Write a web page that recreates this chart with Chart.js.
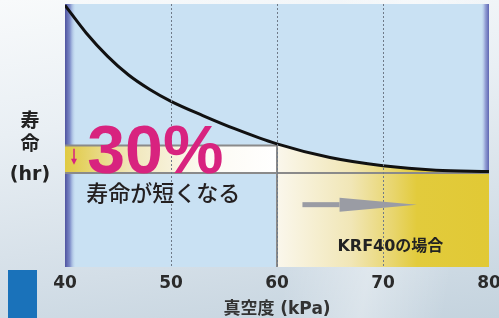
<!DOCTYPE html>
<html>
<head>
<meta charset="utf-8">
<script src="https://cdn.jsdelivr.net/npm/chart.js@4"></script>
<style>
  html, body { margin: 0; padding: 0; }
  body {
    width: 499px; height: 318px; overflow: hidden; position: relative;
    background:
      linear-gradient(100deg, rgba(255,255,255,0) 60%, rgba(255,255,255,0.35) 75%, rgba(255,255,255,0) 90%),
      linear-gradient(172deg, #f8fafb 0%, #e9eff4 35%, #d3dee7 75%, #c4d3de 100%);
  }
  #badge { position: absolute; left: 8px; top: 270px; width: 29px; height: 48px; background: #1a72ba; }
  canvas { position: absolute; left: 0; top: 0; }
</style>
</head>
<body>
<div id="badge"></div>
<canvas id="lifeChart" width="499" height="318"></canvas>
<script>
// 真空度 (kPa) と寿命 (hr, 相対値)
const pressure = [40, 42, 44, 46, 48, 50, 53, 56, 60, 65, 70, 75, 80];
const lifeHours = [99.5, 89.0, 80.2, 73.0, 67.5, 63.0, 57.6, 52.6, 46.8, 41.6, 38.5, 36.8, 36.3];
const xTicks = [40, 50, 60, 70, 80];
const gridAt = [50, 60, 70];

// 寿命の帯 (60kPa → 80kPa で短くなる分)
const bandStart = 40, bandSplit = 60, bandEnd = 80;
const bandTop = 46.2, bandBottom = 35.7;

const CJK = "'DejaVu Sans', 'Noto Sans CJK JP', sans-serif";
const gray = '#8a8a8a';

const curve = pressure.map((p, i) => ({ x: p, y: lifeHours[i] }));
const curveRight = curve.filter(pt => pt.x >= bandSplit);

// 背景 (プロット領域の水色と両端の紫)
const plotBackground = {
  id: 'plotBackground',
  beforeDraw(chart) {
    const { ctx, chartArea: a } = chart;
    ctx.save();
    ctx.fillStyle = '#c9e1f3';
    ctx.fillRect(a.left, a.top, a.width, a.height);
    let g = ctx.createLinearGradient(a.left, 0, a.left + 11, 0);
    g.addColorStop(0, '#4f53a0');
    g.addColorStop(0.45, '#7d8cc8');
    g.addColorStop(1, 'rgba(201,225,243,0)');
    ctx.fillStyle = g;
    ctx.fillRect(a.left, a.top, 11, a.height);
    g = ctx.createLinearGradient(a.right - 8, 0, a.right, 0);
    g.addColorStop(0, 'rgba(201,225,243,0)');
    g.addColorStop(0.5, '#99a6d8');
    g.addColorStop(1, '#5e66b2');
    ctx.fillStyle = g;
    ctx.fillRect(a.right - 8, a.top, 8, a.height);
    ctx.restore();
  }
};

// 注記
const notes = {
  id: 'notes',
  afterDraw(chart) {
    const { ctx } = chart;
    const x = chart.scales.x, y = chart.scales.y;
    ctx.save();

    // 縦軸タイトル
    ctx.fillStyle = '#222';
    ctx.textAlign = 'center';
    ctx.textBaseline = 'middle';
    ctx.font = "bold 19px " + CJK;
    ctx.fillText('寿', 30, 122);
    ctx.fillText('命', 30, 145);
    ctx.fillText('(hr)', 30, 175);

    // 30%
    ctx.fillStyle = '#d8237f';
    ctx.textAlign = 'left';
    ctx.textBaseline = 'alphabetic';
    ctx.font = "bold 68px 'Liberation Sans', Arial, sans-serif";
    ctx.fillText('30%', x.getPixelForValue(42.1), y.getPixelForValue(35.9));

    // 小さい下向き矢印
    const ax = x.getPixelForValue(40.85);
    const ay0 = y.getPixelForValue(45.0), ay1 = y.getPixelForValue(38.9);
    ctx.strokeStyle = '#d8237f';
    ctx.lineWidth = 1.5;
    ctx.beginPath();
    ctx.moveTo(ax, ay0);
    ctx.lineTo(ax, ay1 - 5);
    ctx.stroke();
    ctx.beginPath();
    ctx.moveTo(ax - 3, ay1 - 6);
    ctx.lineTo(ax + 3, ay1 - 6);
    ctx.lineTo(ax, ay1);
    ctx.closePath();
    ctx.fill();

    // 寿命が短くなる
    ctx.fillStyle = '#231f20';
    ctx.textBaseline = 'middle';
    ctx.font = "500 22px 'Noto Sans CJK JP', sans-serif";
    ctx.fillText('寿命が短くなる', x.getPixelForValue(42.0), y.getPixelForValue(28.2));

    // 灰色の矢印
    const sx0 = x.getPixelForValue(62.4), sx1 = x.getPixelForValue(65.9), tip = x.getPixelForValue(73.2);
    const sy = y.getPixelForValue(23.7);
    ctx.fillStyle = '#9a9ca4';
    ctx.fillRect(sx0, sy - 2.5, sx1 - sx0, 5);
    ctx.beginPath();
    ctx.moveTo(sx1, sy - 7);
    ctx.lineTo(tip, sy);
    ctx.lineTo(sx1, sy + 7);
    ctx.closePath();
    ctx.fill();

    // KRF40の場合
    ctx.fillStyle = '#222';
    ctx.font = "bold 16px " + CJK;
    ctx.fillText('KRF40の場合', x.getPixelForValue(65.7), y.getPixelForValue(7.6));
    ctx.restore();
  }
};

function leftBandFill(context) {
  const { ctx, chartArea, scales } = context.chart;
  if (!chartArea) return 'transparent';
  const g = ctx.createLinearGradient(scales.x.getPixelForValue(bandStart), 0, scales.x.getPixelForValue(bandSplit), 0);
  g.addColorStop(0, '#e0ca42');
  g.addColorStop(0.3, '#f0e6b8');
  g.addColorStop(0.65, '#fcfaf2');
  g.addColorStop(1, '#ffffff');
  return g;
}

function rightFill(context) {
  const { ctx, chartArea, scales } = context.chart;
  if (!chartArea) return 'transparent';
  const g = ctx.createLinearGradient(scales.x.getPixelForValue(bandSplit), 0, scales.x.getPixelForValue(bandEnd), 0);
  g.addColorStop(0, '#faf7ec');
  g.addColorStop(0.35, '#f1e6b6');
  g.addColorStop(0.55, '#e8d56c');
  g.addColorStop(0.66, '#e2cb3c');
  g.addColorStop(1, '#e1c935');
  return g;
}

const chart = new Chart(document.getElementById('lifeChart').getContext('2d'), {
  type: 'line',
  data: {
    datasets: [
      {
        label: '寿命',
        data: curve,
        borderColor: '#111',
        borderWidth: 3,
        pointRadius: 0,
        cubicInterpolationMode: 'monotone',
        fill: false
      },
      {
        label: 'bottom',
        data: [{ x: bandStart, y: bandBottom }, { x: bandEnd, y: bandBottom }],
        borderColor: gray,
        borderWidth: 2,
        pointRadius: 0,
        fill: false
      },
      {
        label: 'split',
        data: [{ x: bandSplit, y: bandTop }, { x: bandSplit, y: 0 }],
        borderColor: gray,
        borderWidth: 2,
        pointRadius: 0,
        fill: false
      },
      {
        label: 'band',
        data: [{ x: bandStart, y: bandTop }, { x: bandSplit, y: bandTop }],
        borderColor: gray,
        borderWidth: 2,
        pointRadius: 0,
        backgroundColor: leftBandFill,
        fill: { value: bandBottom }
      },
      {
        label: 'krf',
        data: curveRight,
        borderWidth: 0,
        pointRadius: 0,
        cubicInterpolationMode: 'monotone',
        backgroundColor: rightFill,
        fill: 'origin'
      }
    ]
  },
  options: {
    responsive: false,
    animation: false,
    layout: { padding: { left: 65, right: 10, top: 4, bottom: 0 } },
    plugins: { legend: { display: false }, tooltip: { enabled: false } },
    scales: {
      x: {
        type: 'linear',
        min: 40,
        max: 80,
        afterBuildTicks: s => { s.ticks = xTicks.map(v => ({ value: v })); },
        afterFit: s => { s.paddingRight = 0; s.paddingLeft = 0; },
        grid: {
          z: 1,
          drawTicks: false,
          lineWidth: 1,
          color: c => (c.tick && gridAt.includes(c.tick.value)) ? '#6f7a88' : 'transparent'
        },
        border: { display: false, dash: [2, 2] },
        ticks: {
          font: { family: "'DejaVu Sans', sans-serif", weight: 'bold', size: 17 },
          color: '#2b2b2b',
          padding: 6,
          maxRotation: 0,
          autoSkip: false
        },
        title: {
          display: true,
          text: '真空度 (kPa)',
          color: '#333',
          font: { family: CJK, weight: 'bold', size: 17, lineHeight: 1 },
          padding: { top: 1.6, bottom: 0 }
        }
      },
      y: { display: false, min: 0, max: 100 }
    }
  },
  plugins: [plotBackground, notes]
});
</script>
</body>
</html>
